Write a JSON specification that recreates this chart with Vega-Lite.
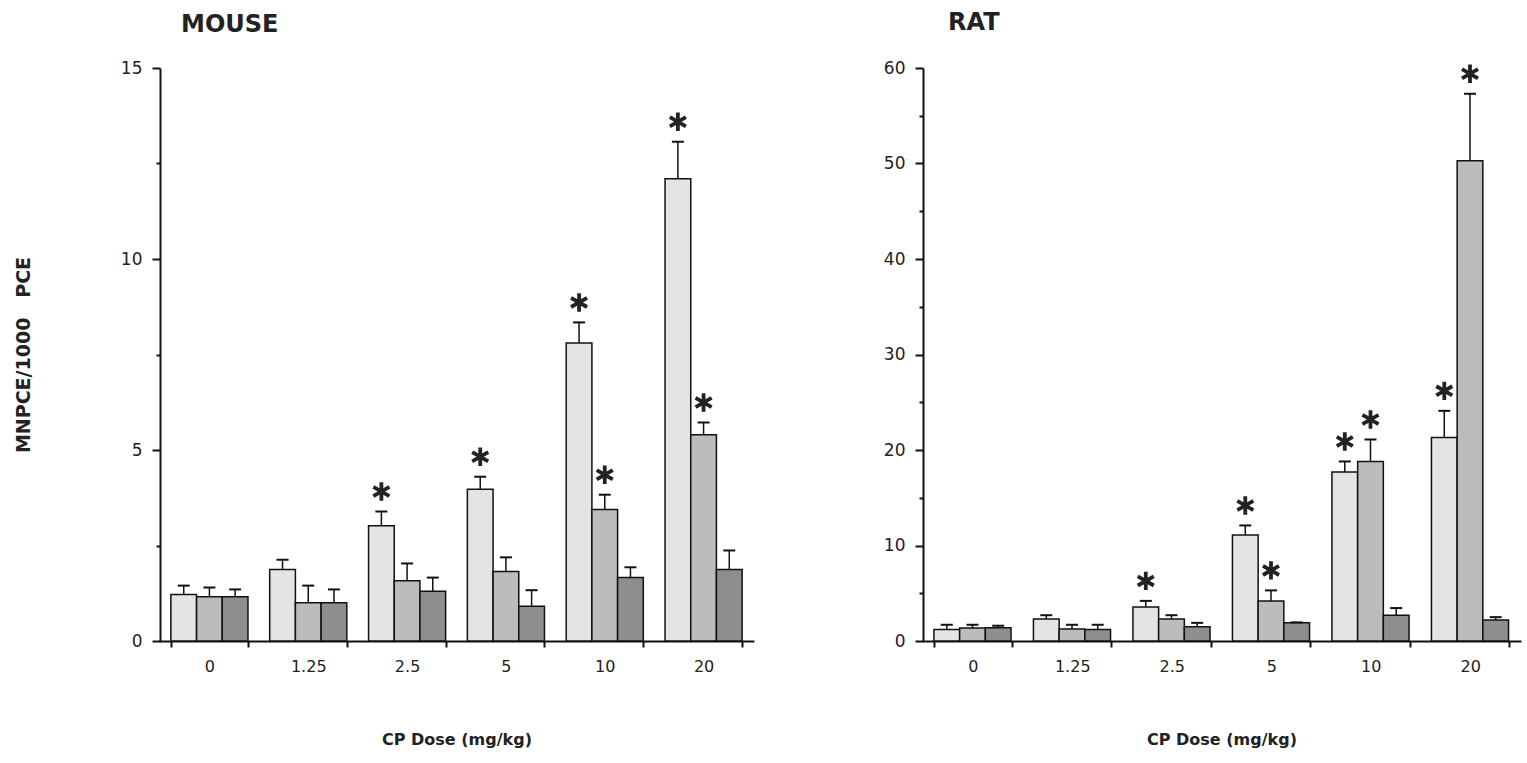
{
  "$schema": "https://vega.github.io/schema/vega-lite/v6.json",
  "background": "white",
  "padding": {"left": 14, "top": 10, "right": 5, "bottom": 5},
  "datasets": {
    "mouse": [
      {"dose": "0", "group": "A", "value": 1.22, "err": 1.45, "sig": false},
      {"dose": "0", "group": "B", "value": 1.16, "err": 1.40, "sig": false},
      {"dose": "0", "group": "C", "value": 1.16, "err": 1.35, "sig": false},
      {"dose": "1.25", "group": "A", "value": 1.87, "err": 2.13, "sig": false},
      {"dose": "1.25", "group": "B", "value": 1.0, "err": 1.45, "sig": false},
      {"dose": "1.25", "group": "C", "value": 1.0, "err": 1.35, "sig": false},
      {"dose": "2.5", "group": "A", "value": 3.02, "err": 3.39, "sig": true},
      {"dose": "2.5", "group": "B", "value": 1.58, "err": 2.03, "sig": false},
      {"dose": "2.5", "group": "C", "value": 1.30, "err": 1.66, "sig": false},
      {"dose": "5", "group": "A", "value": 3.97, "err": 4.30, "sig": true},
      {"dose": "5", "group": "B", "value": 1.82, "err": 2.19, "sig": false},
      {"dose": "5", "group": "C", "value": 0.91, "err": 1.33, "sig": false},
      {"dose": "10", "group": "A", "value": 7.80, "err": 8.34, "sig": true},
      {"dose": "10", "group": "B", "value": 3.44, "err": 3.83, "sig": true},
      {"dose": "10", "group": "C", "value": 1.66, "err": 1.93, "sig": false},
      {"dose": "20", "group": "A", "value": 12.10, "err": 13.07, "sig": true},
      {"dose": "20", "group": "B", "value": 5.40, "err": 5.72, "sig": true},
      {"dose": "20", "group": "C", "value": 1.87, "err": 2.37, "sig": false}
    ],
    "rat": [
      {"dose": "0", "group": "A", "value": 1.2, "err": 1.7, "sig": false},
      {"dose": "0", "group": "B", "value": 1.35, "err": 1.7, "sig": false},
      {"dose": "0", "group": "C", "value": 1.4, "err": 1.6, "sig": false},
      {"dose": "1.25", "group": "A", "value": 2.3, "err": 2.7, "sig": false},
      {"dose": "1.25", "group": "B", "value": 1.25, "err": 1.7, "sig": false},
      {"dose": "1.25", "group": "C", "value": 1.2, "err": 1.7, "sig": false},
      {"dose": "2.5", "group": "A", "value": 3.55, "err": 4.2, "sig": true},
      {"dose": "2.5", "group": "B", "value": 2.3, "err": 2.7, "sig": false},
      {"dose": "2.5", "group": "C", "value": 1.5, "err": 1.9, "sig": false},
      {"dose": "5", "group": "A", "value": 11.1, "err": 12.1, "sig": true},
      {"dose": "5", "group": "B", "value": 4.2, "err": 5.3, "sig": true},
      {"dose": "5", "group": "C", "value": 1.9, "err": 1.95, "sig": false},
      {"dose": "10", "group": "A", "value": 17.7, "err": 18.8, "sig": true},
      {"dose": "10", "group": "B", "value": 18.8, "err": 21.1, "sig": true},
      {"dose": "10", "group": "C", "value": 2.7, "err": 3.45, "sig": false},
      {"dose": "20", "group": "A", "value": 21.3, "err": 24.1, "sig": true},
      {"dose": "20", "group": "B", "value": 50.3, "err": 57.3, "sig": true},
      {"dose": "20", "group": "C", "value": 2.2, "err": 2.5, "sig": false}
    ]
  },
  "hconcat": [
    {
      "width": 593,
      "height": 573,
      "data": {"name": "mouse"},
      "title": {"text": "MOUSE", "anchor": "start", "frame": "group", "dx": 21, "offset": 3, "baseline": "alphabetic", "font": "DejaVu Sans", "fontSize": 24, "fontWeight": "bold", "color": "#222"},
      "encoding": {
        "x": {"field": "dose", "type": "nominal", "sort": ["0", "1.25", "2.5", "5", "10", "20"],
              "scale": {"paddingInner": 0.22, "paddingOuter": 0.11},
              "axis": {"title": "CP Dose (mg/kg)"}},
        "xOffset": {"field": "group", "type": "nominal", "scale": {"paddingInner": 0, "paddingOuter": 0}}
      },
      "layer": [
        {
          "mark": {"type": "bar", "stroke": "#111", "strokeWidth": 1.5},
          "encoding": {
            "y": {"field": "value", "type": "quantitative", "scale": {"domain": [0, 15], "nice": false},
                  "axis": {"title": "MNPCE/1000\u00a0\u00a0\u00a0PCE", "values": [0, 2.5, 5, 7.5, 10, 12.5, 15],
                           "labelExpr": "datum.value % 5 === 0 ? datum.label : ''",
                           "tickSize": {"condition": {"test": "datum.value % 5 === 0", "value": 8}, "value": 4},
                           "titlePadding": 87, "titleFontSize": 19}},
            "fill": {"field": "group", "type": "nominal", "scale": {"range": ["#e4e4e4", "#bcbcbc", "#8e8e8e"]}, "legend": null}
          }
        },
        {
          "mark": {"type": "rule", "stroke": "#111", "strokeWidth": 1.5},
          "encoding": {"y": {"field": "value", "type": "quantitative"}, "y2": {"field": "err"}}
        },
        {
          "mark": {"type": "tick", "color": "#111", "size": 12, "thickness": 2, "orient": "horizontal", "opacity": 1},
          "encoding": {"y": {"field": "err", "type": "quantitative"}}
        },
        {
          "transform": [{"filter": "datum.sig"}],
          "mark": {"type": "point", "shape": "M0,-1L0,1M-0.87,-0.5L0.87,0.5M-0.87,0.5L0.87,-0.5", "size": 340, "strokeWidth": 3.8, "stroke": "#222", "filled": false, "opacity": 1, "yOffset": -20},
          "encoding": {"y": {"field": "err", "type": "quantitative"}}
        }
      ]
    },
    {
      "width": 597,
      "height": 573,
      "data": {"name": "rat"},
      "title": {"text": "RAT", "anchor": "start", "frame": "group", "dx": 25, "offset": 3, "baseline": "alphabetic", "font": "DejaVu Sans", "fontSize": 24, "fontWeight": "bold", "color": "#222"},
      "encoding": {
        "x": {"field": "dose", "type": "nominal", "sort": ["0", "1.25", "2.5", "5", "10", "20"],
              "scale": {"paddingInner": 0.22, "paddingOuter": 0.11},
              "axis": {"title": "CP Dose (mg/kg)"}},
        "xOffset": {"field": "group", "type": "nominal", "scale": {"paddingInner": 0, "paddingOuter": 0}}
      },
      "layer": [
        {
          "mark": {"type": "bar", "stroke": "#111", "strokeWidth": 1.5},
          "encoding": {
            "y": {"field": "value", "type": "quantitative", "scale": {"domain": [0, 60], "nice": false},
                  "axis": {"title": null, "values": [0, 5, 10, 15, 20, 25, 30, 35, 40, 45, 50, 55, 60],
                           "labelExpr": "datum.value % 10 === 0 ? datum.label : ''",
                           "tickSize": {"condition": {"test": "datum.value % 10 === 0", "value": 8}, "value": 4}}},
            "fill": {"field": "group", "type": "nominal", "scale": {"range": ["#e4e4e4", "#bcbcbc", "#8e8e8e"]}, "legend": null}
          }
        },
        {
          "mark": {"type": "rule", "stroke": "#111", "strokeWidth": 1.5},
          "encoding": {"y": {"field": "value", "type": "quantitative"}, "y2": {"field": "err"}}
        },
        {
          "mark": {"type": "tick", "color": "#111", "size": 12, "thickness": 2, "orient": "horizontal", "opacity": 1},
          "encoding": {"y": {"field": "err", "type": "quantitative"}}
        },
        {
          "transform": [{"filter": "datum.sig"}],
          "mark": {"type": "point", "shape": "M0,-1L0,1M-0.87,-0.5L0.87,0.5M-0.87,0.5L0.87,-0.5", "size": 340, "strokeWidth": 3.8, "stroke": "#222", "filled": false, "opacity": 1, "yOffset": -20},
          "encoding": {"y": {"field": "err", "type": "quantitative"}}
        }
      ]
    }
  ],
  "spacing": 130,
  "config": {
    "view": {"stroke": null},
    "axis": {
      "domainColor": "#111", "domainWidth": 2, "tickColor": "#111", "tickWidth": 2,
      "grid": false, "labelColor": "#222", "labelFont": "DejaVu Sans", "labelFontSize": 16,
      "titleFont": "DejaVu Sans", "titleFontWeight": "bold", "titleFontSize": 16, "titleColor": "#222"
    },
    "axisY": {"labelPadding": 10, "labelFontSize": 17},
    "axisX": {"tickBand": "extent", "tickSize": 6, "labelPadding": 11, "labelAngle": 0, "titlePadding": 57, "domainCap": "square"}
  }
}
